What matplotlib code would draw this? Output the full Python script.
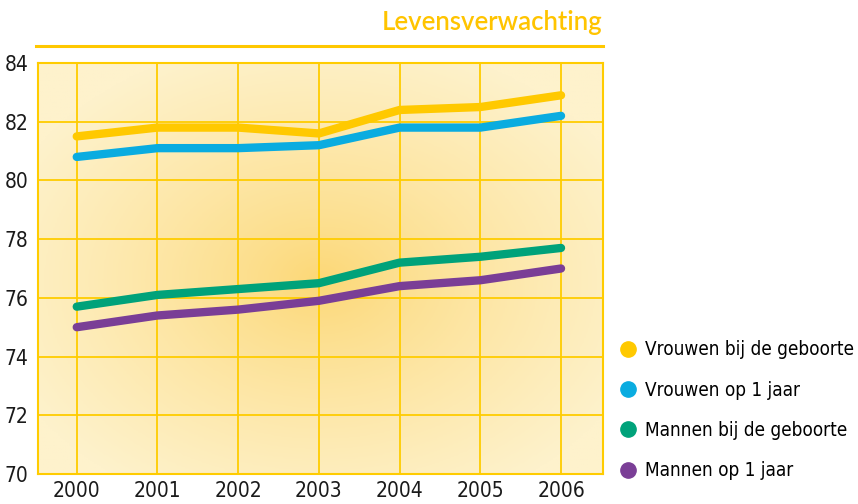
import numpy as np
import matplotlib.pyplot as plt
from matplotlib.lines import Line2D
from matplotlib.colors import LinearSegmentedColormap

years = [2000, 2001, 2002, 2003, 2004, 2005, 2006]
vrouwen_geboorte = [81.5, 81.8, 81.8, 81.6, 82.4, 82.5, 82.9]
vrouwen_1jaar = [80.8, 81.1, 81.1, 81.2, 81.8, 81.8, 82.2]
mannen_geboorte = [75.7, 76.1, 76.3, 76.5, 77.2, 77.4, 77.7]
mannen_1jaar = [75.0, 75.4, 75.6, 75.9, 76.4, 76.6, 77.0]

series = [
    ("Vrouwen bij de geboorte", vrouwen_geboorte, "#FFC900"),
    ("Vrouwen op 1 jaar", vrouwen_1jaar, "#0AACE0"),
    ("Mannen bij de geboorte", mannen_geboorte, "#00A27A"),
    ("Mannen op 1 jaar", mannen_1jaar, "#7A3E96"),
]

GRID = "#FFCC00"
FONT = ["DejaVu Sans"]

fig = plt.figure(figsize=(8.58, 5.04), dpi=100)
ax = fig.add_axes([0.0443, 0.0595, 0.6585, 0.8155])

x = np.arange(len(years))
xlim = (-0.48, 6.52)
ylim = (70, 84)

# soft radial glow behind the grid
gx, gy = np.meshgrid(np.linspace(0, 1, 300), np.linspace(0, 1, 300))
r = np.sqrt(((gx - 0.50) / 0.60) ** 2 + ((gy - 0.47) / 0.60) ** 2)
glow = LinearSegmentedColormap.from_list("glow", ["#FCD774", "#FEF2CC"])
ax.imshow(np.clip(r, 0, 1) ** 0.8, cmap=glow, vmin=0, vmax=1, origin="lower",
          extent=(*xlim, *ylim), aspect="auto", zorder=0)

for label, values, color in series:
    ax.plot(x, values, color=color, lw=6, solid_capstyle="round",
            solid_joinstyle="round", zorder=3)

ax.set_xlim(*xlim)
ax.set_ylim(*ylim)
ax.set_xticks(x, [str(y) for y in years])
ax.set_yticks(range(70, 85, 2))
ax.grid(True, color=GRID, lw=1.3, zorder=1)
for line in ax.get_xgridlines() + ax.get_ygridlines():
    line.set_zorder(1)
ax.tick_params(length=0, labelsize=15, labelcolor="#1a1a1a")
ax.tick_params(axis="x", pad=5)
ax.tick_params(axis="y", pad=7)
for lbl in ax.get_xticklabels() + ax.get_yticklabels():
    lbl.set_family(FONT)
    lbl.set_stretch("condensed")
for spine in ax.spines.values():
    spine.set_color(GRID)
    spine.set_linewidth(1.5)
    spine.set_zorder(2)

fig.text(0.7025, 0.94, "Levensverwachting", ha="right", va="baseline",
         color="#FFC400", fontsize=18.5, family=["Lato", "DejaVu Sans"],
         fontweight="semibold")
fig.add_artist(Line2D([0.042, 0.7025], [0.908, 0.908], color="#FFC800", lw=2.2))

handles = [Line2D([], [], marker="o", ls="none", markersize=11,
                  markerfacecolor=c, markeredgecolor=c) for _, _, c in series]
fig.legend(handles, [s[0] for s in series], loc="lower left",
           bbox_to_anchor=(0.699, 0.013), frameon=False, handletextpad=0.3,
           labelspacing=1.13, handlelength=1.2,
           prop={"family": FONT, "size": 13.6, "stretch": "condensed"})

fig.savefig("out.png", dpi=100)
